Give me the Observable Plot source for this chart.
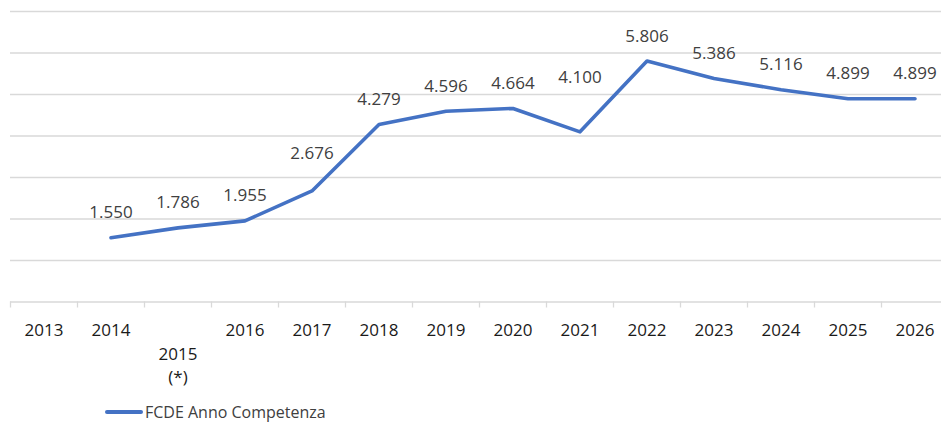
<!DOCTYPE html>
<html><head><meta charset="utf-8">
<script src="https://cdn.jsdelivr.net/npm/d3@7"></script>
<script src="https://cdn.jsdelivr.net/npm/@observablehq/plot@0.6"></script>
<style>
body{margin:0;background:#fff;font-family:"Open Sans",sans-serif;overflow:hidden;}
#legend{position:absolute;left:105px;top:403px;height:18px;line-height:18px;display:flex;align-items:center;font-size:16px;color:#404040;}
#legend span.sw{display:inline-block;width:38px;height:4px;background:#4472C4;margin-right:2px;border-radius:2px;}
</style></head><body>
<div id="chart"></div>
<div id="legend"><span class="sw"></span><span>FCDE Anno Competenza</span></div>
<script>
const years = [2013,2014,2015,2016,2017,2018,2019,2020,2021,2022,2023,2024,2025,2026];
const yearLabels = ["2013","2014","\u00a0\n2015\n(*)","2016","2017","2018","2019","2020","2021","2022","2023","2024","2025","2026"];
const fcde = [null,1550,1786,1955,2676,4279,4596,4664,4100,5806,5386,5116,4899,4899];
const seriesName = "FCDE Anno Competenza";
const gridTicks = [0,1000,2000,3000,4000,5000,6000,7000];

const data = years.map((y,i)=>({year:y, value:fcde[i], label:yearLabels[i]})).filter(d=>d.value!=null);
const fmt = v => (v/1000).toFixed(3);
const boundaries = years.map(y=>y-0.5);
const raised = {2017:-37, 2021:-54};

const plot = Plot.plot({
  width:941, height:395,
  marginLeft:10, marginRight:0, marginTop:11, marginBottom:93.5,
  style:{fontFamily:"Open Sans, sans-serif", background:"#fff"},
  x:{type:"linear", domain:[2012.5,2026.5], range:[10,948], label:null},
  y:{domain:[0,7000], axis:null, label:null},
  marks:[
    Plot.ruleY(gridTicks, {stroke:"#d9d9d9", strokeWidth:1.3}),
    Plot.axisX({ticks:boundaries, tickSize:6, tickFormat:()=>"", stroke:"#d9d9d9", strokeWidth:1.3, label:null}),
    Plot.axisX({ticks:years, tickSize:0, tickPadding:17, tickFormat:(d)=>yearLabels[years.indexOf(d)], fontSize:17, fill:"#1a1a1a", lineHeight:1.4, label:null}),
    Plot.line(data, {x:"year", y:"value", stroke:"#4472C4", strokeWidth:3.6}),
    Plot.text(data.filter(d=>!(d.year in raised)), {x:"year", y:"value", text:d=>fmt(d.value), dy:-25, fontSize:17, fill:"#404040"}),
    Plot.text(data.filter(d=>d.year===2017), {x:"year", y:"value", text:d=>fmt(d.value), dy:raised[2017], fontSize:17, fill:"#404040"}),
    Plot.text(data.filter(d=>d.year===2021), {x:"year", y:"value", text:d=>fmt(d.value), dy:raised[2021], fontSize:17, fill:"#404040"})
  ]
});
document.getElementById("chart").appendChild(plot);
</script>
</body></html>
